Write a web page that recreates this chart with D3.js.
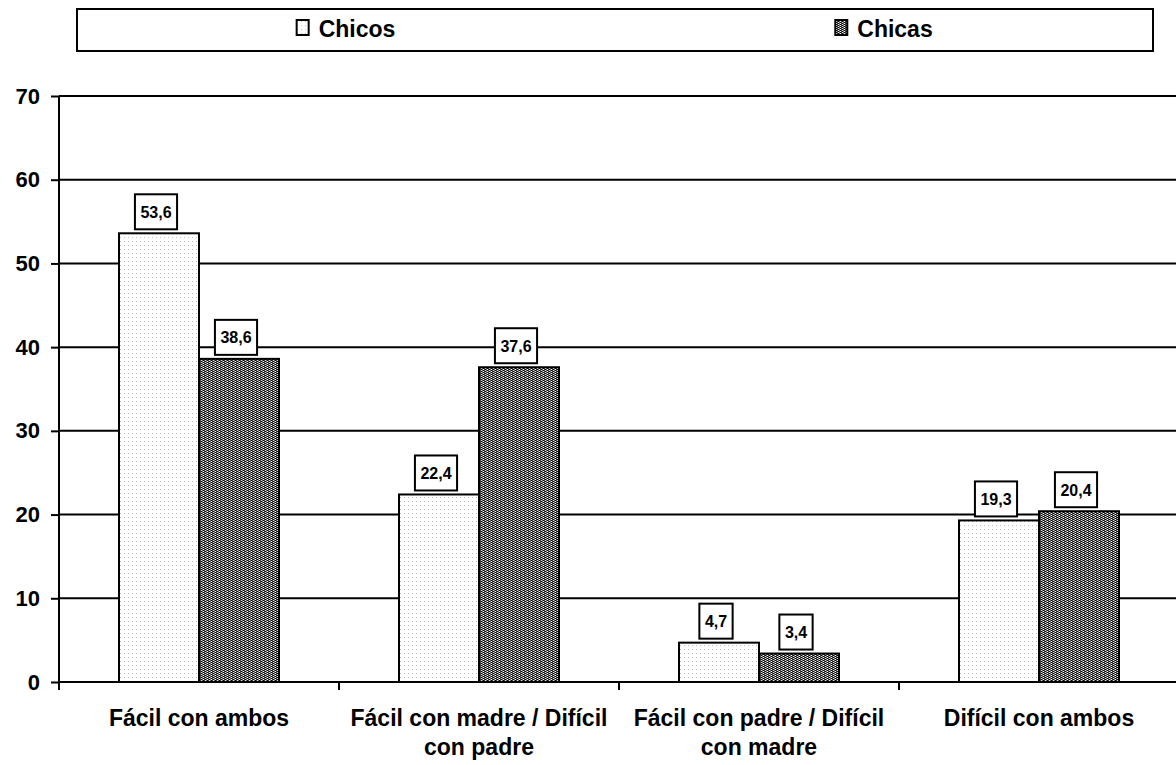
<!DOCTYPE html>
<html>
<head>
<meta charset="utf-8">
<script src="https://cdn.jsdelivr.net/npm/d3@7"></script>
<style>
  html, body { margin: 0; padding: 0; background: #fff; }
  svg { display: block; font-family: "Liberation Sans", Arial, sans-serif; font-weight: bold; }
</style>
</head>
<body>
<svg id="chart" width="1176" height="765"></svg>
<script>
const categories = ["Fácil con ambos", "Fácil con madre / Difícil con padre", "Fácil con padre / Difícil con madre", "Difícil con ambos"];
const seriesNames = ["Chicos", "Chicas"];
const chicos = [53.6, 22.4, 4.7, 19.3];
const chicas = [38.6, 37.6, 3.4, 20.4];
const yTicks = [0, 10, 20, 30, 40, 50, 60, 70];

const values = { "Chicos": chicos, "Chicas": chicas };
const fmt = v => d3.format(".1f")(v).replace(".", ",");

const svg = d3.select("#chart");
const W = 1176, H = 765;
svg.append("rect").attr("width", W).attr("height", H).attr("fill", "#fff");

// patterns
const defs = svg.append("defs");
const pDots = defs.append("pattern").attr("id", "pChicos").attr("patternUnits", "userSpaceOnUse")
  .attr("width", 4).attr("height", 4);
pDots.append("rect").attr("width", 4).attr("height", 4).attr("fill", "#ffffff");
pDots.append("rect").attr("x", 1).attr("y", 1).attr("width", 1).attr("height", 1).attr("fill", "#c0c0c0");

const pChk = defs.append("pattern").attr("id", "pChicas").attr("patternUnits", "userSpaceOnUse")
  .attr("width", 4).attr("height", 2);
pChk.append("rect").attr("width", 4).attr("height", 2).attr("fill", "#707070");
pChk.append("rect").attr("x", 0).attr("y", 0).attr("width", 1).attr("height", 1).attr("fill", "#000");
pChk.append("rect").attr("x", 0).attr("y", 1).attr("width", 1).attr("height", 1).attr("fill", "#fff");
pChk.append("rect").attr("x", 1).attr("y", 0).attr("width", 1).attr("height", 2).attr("fill", "#404040");
pChk.append("rect").attr("x", 2).attr("y", 0).attr("width", 1).attr("height", 1).attr("fill", "#e0e0e0");
pChk.append("rect").attr("x", 2).attr("y", 1).attr("width", 1).attr("height", 1).attr("fill", "#000");
pChk.append("rect").attr("x", 3).attr("y", 0).attr("width", 1).attr("height", 2).attr("fill", "#6a6a6a");

const fills = { "Chicos": "url(#pChicos)", "Chicas": "url(#pChicas)" };

// scales
const x = d3.scaleBand().domain(categories).range([59, 1179]).padding(0);
const xi = d3.scaleBand().domain(seriesNames).range([0, x.bandwidth()]).paddingInner(0).paddingOuter(0.75);
const y = d3.scaleLinear().domain([0, 70]).range([682, 96]);

// gridlines
svg.append("g").selectAll("line").data(yTicks.filter(t => t > 0)).join("line")
  .attr("x1", 59).attr("x2", W).attr("y1", d => y(d)).attr("y2", d => y(d))
  .attr("stroke", "#000").attr("stroke-width", 2);

// y axis
const yAxis = svg.append("g").attr("transform", "translate(59,0)")
  .call(d3.axisLeft(y).tickValues(yTicks).tickSize(8).tickPadding(11).tickFormat(d3.format("d")));
yAxis.select(".domain").attr("stroke", "#000").attr("stroke-width", 2).attr("d", `M0,${y(70)}V${y(0)}`);
yAxis.selectAll(".tick line").attr("stroke", "#000").attr("stroke-width", 2);
yAxis.selectAll(".tick text").attr("font-size", 22).attr("font-weight", "bold")
  .attr("font-family", "'Liberation Sans', Arial, sans-serif").attr("fill", "#000");

// bars
const groups = svg.append("g").selectAll("g").data(categories).join("g")
  .attr("transform", d => `translate(${x(d)},0)`);
groups.each(function(cat, i) {
  const g = d3.select(this);
  seriesNames.forEach(s => {
    const v = values[s][i];
    g.append("rect")
      .attr("x", xi(s)).attr("width", xi.bandwidth())
      .attr("y", y(v)).attr("height", y(0) - y(v))
      .attr("fill", fills[s]).attr("stroke", "#000").attr("stroke-width", 2);
  });
});

// x axis
const xAxis = svg.append("g").attr("transform", `translate(0,${y(0)})`);
xAxis.append("line").attr("x1", 59).attr("x2", W).attr("y1", 0).attr("y2", 0)
  .attr("stroke", "#000").attr("stroke-width", 2);
xAxis.selectAll("line.tk").data(categories).join("line").attr("class", "tk")
  .attr("x1", d => x(d)).attr("x2", d => x(d)).attr("y1", 0).attr("y2", 8)
  .attr("stroke", "#000").attr("stroke-width", 2);

// category labels (wrapped)
function wrap(textSel, width) {
  textSel.each(function() {
    const text = d3.select(this);
    const words = text.text().split(/\s+/);
    const cx = text.attr("x");
    text.text(null);
    let line = [];
    let tspan = text.append("tspan").attr("x", cx).attr("dy", 0);
    words.forEach(w => {
      line.push(w);
      tspan.text(line.join(" "));
      if (tspan.node().getComputedTextLength() > width && line.length > 1) {
        line.pop();
        tspan.text(line.join(" "));
        line = [w];
        tspan = text.append("tspan").attr("x", cx).attr("dy", 29).text(w);
      }
    });
  });
}
svg.append("g").selectAll("text").data(categories).join("text")
  .attr("x", d => x(d) + x.bandwidth() / 2).attr("y", 726)
  .attr("text-anchor", "middle").attr("font-size", 23).attr("fill", "#000")
  .text(d => d)
  .call(wrap, x.bandwidth() - 8);

// data labels
const labG = svg.append("g");
categories.forEach((cat, i) => {
  seriesNames.forEach(s => {
    const v = values[s][i];
    const cx = x(cat) + xi(s) + xi.bandwidth() / 2 - 3;
    const t = labG.append("text").attr("x", cx).attr("y", 0)
      .attr("text-anchor", "middle").attr("font-size", 16).attr("fill", "#000").text(fmt(v));
    const tw = t.node().getComputedTextLength();
    const bw = tw + 11, bh = 35;
    const by = y(v) - 4 - bh;
    labG.insert("rect", "text").attr("x", cx - bw / 2).attr("y", by).attr("width", bw).attr("height", bh)
      .attr("fill", "#fff").attr("stroke", "#000").attr("stroke-width", 2);
    t.attr("y", by + bh / 2 + 6);
  });
});

// legend
const lg = svg.append("g");
lg.append("rect").attr("x", 77).attr("y", 9).attr("width", 1076).attr("height", 42)
  .attr("fill", "#fff").attr("stroke", "#000").attr("stroke-width", 2);
const lx = d3.scaleBand().domain(seriesNames).range([77, 1153]);
seriesNames.forEach(s => {
  const item = lg.append("g");
  const txt = item.append("text").attr("x", 0).attr("y", 37).attr("font-size", 23).attr("fill", "#000").text(s);
  const tw = txt.node().getComputedTextLength();
  const mw = 12, gap = 10;
  const total = mw + gap + tw;
  const x0 = lx(s) + lx.bandwidth() / 2 - total / 2;
  item.append("rect").attr("x", x0).attr("y", 20).attr("width", mw).attr("height", 15)
    .attr("fill", fills[s]).attr("stroke", "#000").attr("stroke-width", 2);
  txt.attr("x", x0 + mw + gap);
});
</script>
</body>
</html>
